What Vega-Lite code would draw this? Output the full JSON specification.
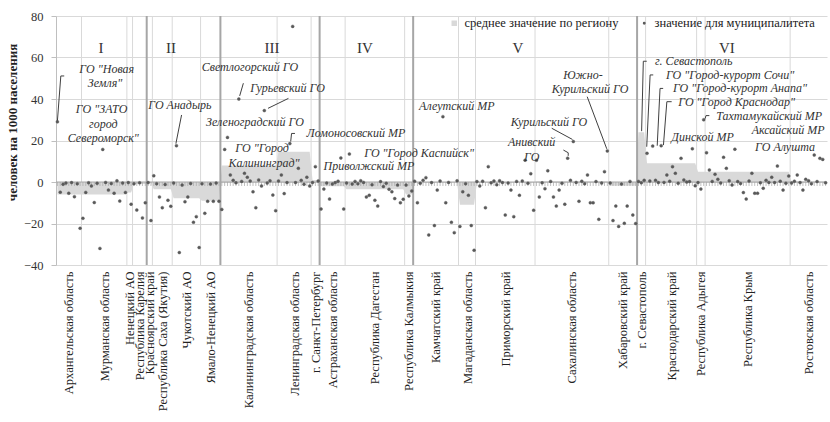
{
 "$schema": "https://vega.github.io/schema/vega-lite/v6.json",
 "width": 771, "height": 249,
 "autosize": {"type": "none"},
 "padding": {"left": 56, "top": 16, "right": 3, "bottom": 157},
 "background": "white",
 "config": {
  "font": "Liberation Serif",
  "view": {"stroke": null},
  "style": {"guide-label": {"font": "Liberation Serif"}, "guide-title": {"font": "Liberation Serif"}},
  "axis": {"labelFont": "Liberation Serif", "titleFont": "Liberation Serif"},
  "axisX": {"labelAngle": -90, "labelFontSize": 12.5, "labelColor": "#222", "labelOverlap": false, "labelPadding": 6, "labelBound": false, "labelFlush": false, "labelLimit": 0, "ticks": false, "domain": false, "grid": false},
  "axisY": {"grid": true, "gridColor": "#d9d9d9", "gridWidth": 1, "domainColor": "#bfbfbf", "tickColor": "#bfbfbf", "tickSize": 5, "labelPadding": 8, "labelFontSize": 12.5, "labelColor": "#333", "titleFontSize": 13, "titleFontWeight": "bold", "titleColor": "#222", "titleX": -44, "titleY": 106, "titleAngle": 270, "titleAlign": "center", "titleBaseline": "middle"},
  "legend": {"labelFont": "Liberation Serif", "labelFontSize": 12.5, "labelColor": "#222", "labelLimit": 0, "padding": 0, "title": null}
 },
 "datasets": {
  "m": [
   {"n":0,"reg":"Архангельская область","v":29,"avg":-6},{"n":1,"reg":"Архангельская область","v":-4.9,"avg":-6},{"n":2,"reg":"Архангельская область","v":-1.1,"avg":-6},{"n":3,"reg":"Архангельская область","v":-0.5,"avg":-6},{"n":4,"reg":"Архангельская область","v":-5.4,"avg":-6},{"n":5,"reg":"Архангельская область","v":-0.3,"avg":-6},{"n":6,"reg":"Архангельская область","v":-7.1,"avg":-6},{"n":7,"reg":"Архангельская область","v":-0.8,"avg":-6},{"n":8,"reg":"Архангельская область","v":-22.3,"avg":-6},
   {"n":9,"reg":"Мурманская область","v":-17.5,"avg":-6},{"n":10,"reg":"Мурманская область","v":-5,"avg":-6},{"n":11,"reg":"Мурманская область","v":-0.4,"avg":-6},{"n":12,"reg":"Мурманская область","v":-1.9,"avg":-6},{"n":13,"reg":"Мурманская область","v":-9.9,"avg":-6},{"n":14,"reg":"Мурманская область","v":-0.6,"avg":-6},{"n":15,"reg":"Мурманская область","v":-32,"avg":-6},{"n":16,"reg":"Мурманская область","v":15.7,"avg":-6},{"n":17,"reg":"Мурманская область","v":-0.2,"avg":-6},{"n":18,"reg":"Мурманская область","v":-3.9,"avg":-6},{"n":19,"reg":"Мурманская область","v":-0.7,"avg":-6},{"n":20,"reg":"Мурманская область","v":-5.4,"avg":-6},{"n":21,"reg":"Мурманская область","v":0.6,"avg":-6},{"n":22,"reg":"Мурманская область","v":-9.2,"avg":-6},{"n":23,"reg":"Мурманская область","v":-0.5,"avg":-6},{"n":24,"reg":"Мурманская область","v":-5,"avg":-6},
   {"n":25,"reg":"Ненецкий АО","v":-0.3,"avg":-5},{"n":26,"reg":"Ненецкий АО","v":-10.7,"avg":-5},
   {"n":27,"reg":"Республика Карелия","v":-0.8,"avg":-1},{"n":28,"reg":"Республика Карелия","v":-13.5,"avg":-1},{"n":29,"reg":"Республика Карелия","v":-0.4,"avg":-1},{"n":30,"reg":"Республика Карелия","v":-17.3,"avg":-1},{"n":31,"reg":"Республика Карелия","v":-10,"avg":-1},
   {"n":32,"reg":"Красноярский край","v":-0.3,"avg":-0.5},{"n":33,"reg":"Красноярский край","v":-18.6,"avg":-0.5},
   {"n":34,"reg":"Республика Саха (Якутия)","v":3,"avg":-3.5},{"n":35,"reg":"Республика Саха (Якутия)","v":-0.8,"avg":-3.5},{"n":36,"reg":"Республика Саха (Якутия)","v":-7.2,"avg":-3.5},{"n":37,"reg":"Республика Саха (Якутия)","v":-12.4,"avg":-3.5},{"n":38,"reg":"Республика Саха (Якутия)","v":-1.2,"avg":-3.5},{"n":39,"reg":"Республика Саха (Якутия)","v":-8.8,"avg":-3.5},{"n":40,"reg":"Республика Саха (Якутия)","v":-11.7,"avg":-3.5},
   {"n":41,"reg":"Чукотский АО","v":-0.5,"avg":-7.8},{"n":42,"reg":"Чукотский АО","v":17.5,"avg":-7.8},{"n":43,"reg":"Чукотский АО","v":-34,"avg":-7.8},{"n":44,"reg":"Чукотский АО","v":-1.5,"avg":-7.8},{"n":45,"reg":"Чукотский АО","v":-9.5,"avg":-7.8},{"n":46,"reg":"Чукотский АО","v":-7.2,"avg":-7.8},{"n":47,"reg":"Чукотский АО","v":-0.7,"avg":-7.8},{"n":48,"reg":"Чукотский АО","v":-19.4,"avg":-7.8},{"n":49,"reg":"Чукотский АО","v":-16.7,"avg":-7.8},{"n":50,"reg":"Чукотский АО","v":-31.6,"avg":-7.8},
   {"n":51,"reg":"Ямало-Ненецкий АО","v":-0.8,"avg":-9},{"n":52,"reg":"Ямало-Ненецкий АО","v":-15.1,"avg":-9},{"n":53,"reg":"Ямало-Ненецкий АО","v":-9.3,"avg":-9},{"n":54,"reg":"Ямало-Ненецкий АО","v":-1,"avg":-9},{"n":55,"reg":"Ямало-Ненецкий АО","v":-9.3,"avg":-9},{"n":56,"reg":"Ямало-Ненецкий АО","v":-0.5,"avg":-9},{"n":57,"reg":"Ямало-Ненецкий АО","v":-9.3,"avg":-9},
   {"n":58,"reg":"Калининградская область","v":-13.2,"avg":8},{"n":59,"reg":"Калининградская область","v":15.7,"avg":8},{"n":60,"reg":"Калининградская область","v":21.5,"avg":8},{"n":61,"reg":"Калининградская область","v":3.4,"avg":8},{"n":62,"reg":"Калининградская область","v":0.8,"avg":8},{"n":63,"reg":"Калининградская область","v":-0.4,"avg":8},{"n":64,"reg":"Калининградская область","v":40,"avg":8},{"n":65,"reg":"Калининградская область","v":0.3,"avg":8},{"n":66,"reg":"Калининградская область","v":4.2,"avg":8},{"n":67,"reg":"Калининградская область","v":2.3,"avg":8},{"n":68,"reg":"Калининградская область","v":0.5,"avg":8},{"n":69,"reg":"Калининградская область","v":-4.7,"avg":8},{"n":70,"reg":"Калининградская область","v":-12.4,"avg":8},{"n":71,"reg":"Калининградская область","v":1,"avg":8},{"n":72,"reg":"Калининградская область","v":-1.9,"avg":8},{"n":73,"reg":"Калининградская область","v":34.4,"avg":8},{"n":74,"reg":"Калининградская область","v":-0.5,"avg":8},{"n":75,"reg":"Калининградская область","v":0.6,"avg":8},{"n":76,"reg":"Калининградская область","v":-6.3,"avg":8},{"n":77,"reg":"Калининградская область","v":-13.8,"avg":8},
   {"n":78,"reg":"Ленинградская область","v":0.5,"avg":14.6},{"n":79,"reg":"Ленинградская область","v":3.4,"avg":14.6},{"n":80,"reg":"Ленинградская область","v":-5.6,"avg":14.6},{"n":81,"reg":"Ленинградская область","v":-0.3,"avg":14.6},{"n":82,"reg":"Ленинградская область","v":18.5,"avg":14.6},{"n":83,"reg":"Ленинградская область","v":75,"avg":14.6},{"n":84,"reg":"Ленинградская область","v":-0.3,"avg":14.6},{"n":85,"reg":"Ленинградская область","v":6.6,"avg":14.6},{"n":86,"reg":"Ленинградская область","v":0.8,"avg":14.6},{"n":87,"reg":"Ленинградская область","v":-1.1,"avg":14.6},{"n":88,"reg":"Ленинградская область","v":2.3,"avg":14.6},{"n":89,"reg":"Ленинградская область","v":-1.9,"avg":14.6},
   {"n":90,"reg":"г. Санкт-Петербург","v":-0.3,"avg":1},{"n":91,"reg":"г. Санкт-Петербург","v":7.4,"avg":1},{"n":92,"reg":"г. Санкт-Петербург","v":0.5,"avg":1},
   {"n":93,"reg":"Астраханская область","v":-13,"avg":-2},{"n":94,"reg":"Астраханская область","v":-3.4,"avg":-2},{"n":95,"reg":"Астраханская область","v":-0.5,"avg":-2},{"n":96,"reg":"Астраханская область","v":-8.2,"avg":-2},{"n":97,"reg":"Астраханская область","v":-1,"avg":-2},{"n":98,"reg":"Астраханская область","v":-0.3,"avg":-2},{"n":99,"reg":"Астраханская область","v":0.4,"avg":-2},{"n":100,"reg":"Астраханская область","v":11.6,"avg":-2},{"n":101,"reg":"Астраханская область","v":-13,"avg":-2},
   {"n":102,"reg":"Республика Дагестан","v":-0.5,"avg":-3.5},{"n":103,"reg":"Республика Дагестан","v":13.5,"avg":-3.5},{"n":104,"reg":"Республика Дагестан","v":-1,"avg":-3.5},{"n":105,"reg":"Республика Дагестан","v":0.3,"avg":-3.5},{"n":106,"reg":"Республика Дагестан","v":-0.8,"avg":-3.5},{"n":107,"reg":"Республика Дагестан","v":0.6,"avg":-3.5},{"n":108,"reg":"Республика Дагестан","v":-0.2,"avg":-3.5},{"n":109,"reg":"Республика Дагестан","v":-7.2,"avg":-3.5},{"n":110,"reg":"Республика Дагестан","v":-6.4,"avg":-3.5},{"n":111,"reg":"Республика Дагестан","v":-1.3,"avg":-3.5},{"n":112,"reg":"Республика Дагестан","v":-8.8,"avg":-3.5},{"n":113,"reg":"Республика Дагестан","v":-11.6,"avg":-3.5},{"n":114,"reg":"Республика Дагестан","v":0.2,"avg":-3.5},{"n":115,"reg":"Республика Дагестан","v":-2.2,"avg":-3.5},{"n":116,"reg":"Республика Дагестан","v":-0.6,"avg":-3.5},{"n":117,"reg":"Республика Дагестан","v":-3.5,"avg":-3.5},{"n":118,"reg":"Республика Дагестан","v":-4.7,"avg":-3.5},{"n":119,"reg":"Республика Дагестан","v":-8,"avg":-3.5},{"n":120,"reg":"Республика Дагестан","v":-1.5,"avg":-3.5},{"n":121,"reg":"Республика Дагестан","v":-10,"avg":-3.5},{"n":122,"reg":"Республика Дагестан","v":-8.3,"avg":-3.5},
   {"n":123,"reg":"Республика Калмыкия","v":-1.5,"avg":-6},{"n":124,"reg":"Республика Калмыкия","v":-6.7,"avg":-6},{"n":125,"reg":"Республика Калмыкия","v":-4.3,"avg":-6},
   {"n":126,"reg":"Камчатский край","v":0.4,"avg":-0.5},{"n":127,"reg":"Камчатский край","v":-10,"avg":-0.5},{"n":128,"reg":"Камчатский край","v":-0.6,"avg":-0.5},{"n":129,"reg":"Камчатский край","v":0.8,"avg":-0.5},{"n":130,"reg":"Камчатский край","v":2.1,"avg":-0.5},{"n":131,"reg":"Камчатский край","v":-25.5,"avg":-0.5},{"n":132,"reg":"Камчатский край","v":-0.3,"avg":-0.5},{"n":133,"reg":"Камчатский край","v":-21,"avg":-0.5},{"n":134,"reg":"Камчатский край","v":-3.9,"avg":-0.5},{"n":135,"reg":"Камчатский край","v":0.5,"avg":-0.5},{"n":136,"reg":"Камчатский край","v":31.5,"avg":-0.5},{"n":137,"reg":"Камчатский край","v":-10,"avg":-0.5},{"n":138,"reg":"Камчатский край","v":-0.2,"avg":-0.5},{"n":139,"reg":"Камчатский край","v":-19.4,"avg":-0.5},{"n":140,"reg":"Камчатский край","v":-24.4,"avg":-0.5},{"n":141,"reg":"Камчатский край","v":0.6,"avg":-0.5},
   {"n":142,"reg":"Магаданская область","v":-21.4,"avg":-11},{"n":143,"reg":"Магаданская область","v":-4.7,"avg":-11},{"n":144,"reg":"Магаданская область","v":-0.8,"avg":-11},{"n":145,"reg":"Магаданская область","v":-6.4,"avg":-11},{"n":146,"reg":"Магаданская область","v":-21,"avg":-11},{"n":147,"reg":"Магаданская область","v":-32.9,"avg":-11},
   {"n":148,"reg":"Приморский край","v":0.2,"avg":-0.3},{"n":149,"reg":"Приморский край","v":-1.9,"avg":-0.3},{"n":150,"reg":"Приморский край","v":0.4,"avg":-0.3},{"n":151,"reg":"Приморский край","v":-12.4,"avg":-0.3},{"n":152,"reg":"Приморский край","v":7.4,"avg":-0.3},{"n":153,"reg":"Приморский край","v":-0.4,"avg":-0.3},{"n":154,"reg":"Приморский край","v":0.5,"avg":-0.3},{"n":155,"reg":"Приморский край","v":-1.3,"avg":-0.3},{"n":156,"reg":"Приморский край","v":0.6,"avg":-0.3},{"n":157,"reg":"Приморский край","v":-0.3,"avg":-0.3},{"n":158,"reg":"Приморский край","v":-15.9,"avg":-0.3},{"n":159,"reg":"Приморский край","v":-0.5,"avg":-0.3},{"n":160,"reg":"Приморский край","v":-3.9,"avg":-0.3},{"n":161,"reg":"Приморский край","v":-16.7,"avg":-0.3},{"n":162,"reg":"Приморский край","v":0.3,"avg":-0.3},{"n":163,"reg":"Приморский край","v":-6.4,"avg":-0.3},{"n":164,"reg":"Приморский край","v":0.5,"avg":-0.3},{"n":165,"reg":"Приморский край","v":10.5,"avg":-0.3},{"n":166,"reg":"Приморский край","v":-0.6,"avg":-0.3},{"n":167,"reg":"Приморский край","v":4,"avg":-0.3},{"n":168,"reg":"Приморский край","v":-13.6,"avg":-0.3},
   {"n":169,"reg":"Сахалинская область","v":10.5,"avg":0.3},{"n":170,"reg":"Сахалинская область","v":-7.2,"avg":0.3},{"n":171,"reg":"Сахалинская область","v":-0.4,"avg":0.3},{"n":172,"reg":"Сахалинская область","v":-3.2,"avg":0.3},{"n":173,"reg":"Сахалинская область","v":5.4,"avg":0.3},{"n":174,"reg":"Сахалинская область","v":0.3,"avg":0.3},{"n":175,"reg":"Сахалинская область","v":-7.2,"avg":0.3},{"n":176,"reg":"Сахалинская область","v":-11.6,"avg":0.3},{"n":177,"reg":"Сахалинская область","v":-3.9,"avg":0.3},{"n":178,"reg":"Сахалинская область","v":-0.6,"avg":0.3},{"n":179,"reg":"Сахалинская область","v":-10.7,"avg":0.3},{"n":180,"reg":"Сахалинская область","v":11.5,"avg":0.3},{"n":181,"reg":"Сахалинская область","v":0.8,"avg":0.3},{"n":182,"reg":"Сахалинская область","v":19.5,"avg":0.3},{"n":183,"reg":"Сахалинская область","v":-0.2,"avg":0.3},{"n":184,"reg":"Сахалинская область","v":-9.3,"avg":0.3},{"n":185,"reg":"Сахалинская область","v":0.4,"avg":0.3},{"n":186,"reg":"Сахалинская область","v":-0.8,"avg":0.3},{"n":187,"reg":"Сахалинская область","v":3.4,"avg":0.3},{"n":188,"reg":"Сахалинская область","v":-10,"avg":0.3},{"n":189,"reg":"Сахалинская область","v":-10,"avg":0.3},{"n":190,"reg":"Сахалинская область","v":0.2,"avg":0.3},{"n":191,"reg":"Сахалинская область","v":-18,"avg":0.3},{"n":192,"reg":"Сахалинская область","v":-0.5,"avg":0.3},{"n":193,"reg":"Сахалинская область","v":5,"avg":0.3},{"n":194,"reg":"Сахалинская область","v":15,"avg":0.3},
   {"n":195,"reg":"Хабаровский край","v":-0.5,"avg":-1.8},{"n":196,"reg":"Хабаровский край","v":-18.6,"avg":-1.8},{"n":197,"reg":"Хабаровский край","v":-11.6,"avg":-1.8},{"n":198,"reg":"Хабаровский край","v":-21.4,"avg":-1.8},{"n":199,"reg":"Хабаровский край","v":-1,"avg":-1.8},{"n":200,"reg":"Хабаровский край","v":-19.9,"avg":-1.8},{"n":201,"reg":"Хабаровский край","v":-11.6,"avg":-1.8},{"n":202,"reg":"Хабаровский край","v":0.3,"avg":-1.8},{"n":203,"reg":"Хабаровский край","v":-15.9,"avg":-1.8},{"n":204,"reg":"Хабаровский край","v":-20,"avg":-1.8},
   {"n":205,"reg":"г. Севастополь","v":0.3,"avg":24},{"n":206,"reg":"г. Севастополь","v":-0.4,"avg":24},{"n":207,"reg":"г. Севастополь","v":0.8,"avg":24},
   {"n":208,"reg":"Краснодарский край","v":13.8,"avg":9},{"n":209,"reg":"Краснодарский край","v":0.5,"avg":9},{"n":210,"reg":"Краснодарский край","v":17.3,"avg":9},{"n":211,"reg":"Краснодарский край","v":0.8,"avg":9},{"n":212,"reg":"Краснодарский край","v":-0.3,"avg":9},{"n":213,"reg":"Краснодарский край","v":17.5,"avg":9},{"n":214,"reg":"Краснодарский край","v":-0.2,"avg":9},{"n":215,"reg":"Краснодарский край","v":3.4,"avg":9},{"n":216,"reg":"Краснодарский край","v":0.4,"avg":9},{"n":217,"reg":"Краснодарский край","v":7.4,"avg":9},{"n":218,"reg":"Краснодарский край","v":4.2,"avg":9},{"n":219,"reg":"Краснодарский край","v":-0.6,"avg":9},{"n":220,"reg":"Краснодарский край","v":11.4,"avg":9},{"n":221,"reg":"Краснодарский край","v":1,"avg":9},{"n":222,"reg":"Краснодарский край","v":0,"avg":9},{"n":223,"reg":"Краснодарский край","v":0.2,"avg":9},{"n":224,"reg":"Краснодарский край","v":16,"avg":9},{"n":225,"reg":"Краснодарский край","v":-1.8,"avg":9},
   {"n":226,"reg":"Республика Адыгея","v":-0.3,"avg":5},{"n":227,"reg":"Республика Адыгея","v":-3.4,"avg":5},{"n":228,"reg":"Республика Адыгея","v":30,"avg":5},
   {"n":229,"reg":"Республика Крым","v":14.1,"avg":5},{"n":230,"reg":"Республика Крым","v":5.8,"avg":5},{"n":231,"reg":"Республика Крым","v":0.3,"avg":5},{"n":232,"reg":"Республика Крым","v":3.7,"avg":5},{"n":233,"reg":"Республика Крым","v":1.3,"avg":5},{"n":234,"reg":"Республика Крым","v":-0.5,"avg":5},{"n":235,"reg":"Республика Крым","v":11.9,"avg":5},{"n":236,"reg":"Республика Крым","v":6.6,"avg":5},{"n":237,"reg":"Республика Крым","v":0.6,"avg":5},{"n":238,"reg":"Республика Крым","v":-1.4,"avg":5},{"n":239,"reg":"Республика Крым","v":15.8,"avg":5},{"n":240,"reg":"Республика Крым","v":0.2,"avg":5},{"n":241,"reg":"Республика Крым","v":-0.7,"avg":5},{"n":242,"reg":"Республика Крым","v":-5.1,"avg":5},{"n":243,"reg":"Республика Крым","v":-8.2,"avg":5},{"n":244,"reg":"Республика Крым","v":0.5,"avg":5},{"n":245,"reg":"Республика Крым","v":4.2,"avg":5},{"n":246,"reg":"Республика Крым","v":-5.4,"avg":5},{"n":247,"reg":"Республика Крым","v":-5.4,"avg":5},{"n":248,"reg":"Республика Крым","v":-0.4,"avg":5},{"n":249,"reg":"Республика Крым","v":-3,"avg":5},{"n":250,"reg":"Республика Крым","v":0.8,"avg":5},{"n":251,"reg":"Республика Крым","v":-0.2,"avg":5},{"n":252,"reg":"Республика Крым","v":2.3,"avg":5},{"n":253,"reg":"Республика Крым","v":-0.3,"avg":5},{"n":254,"reg":"Республика Крым","v":7.7,"avg":5},{"n":255,"reg":"Республика Крым","v":0.4,"avg":5},{"n":256,"reg":"Республика Крым","v":-3.9,"avg":5},{"n":257,"reg":"Республика Крым","v":-0.6,"avg":5},{"n":258,"reg":"Республика Крым","v":2.9,"avg":5},
   {"n":259,"reg":"Ростовская область","v":-0.5,"avg":0.3},{"n":260,"reg":"Ростовская область","v":0.4,"avg":0.3},{"n":261,"reg":"Ростовская область","v":3.4,"avg":0.3},{"n":262,"reg":"Ростовская область","v":-0.3,"avg":0.3},{"n":263,"reg":"Ростовская область","v":-3.9,"avg":0.3},{"n":264,"reg":"Ростовская область","v":1.3,"avg":0.3},{"n":265,"reg":"Ростовская область","v":0.6,"avg":0.3},{"n":266,"reg":"Ростовская область","v":-0.8,"avg":0.3},{"n":267,"reg":"Ростовская область","v":13,"avg":0.3},{"n":268,"reg":"Ростовская область","v":0.2,"avg":0.3},{"n":269,"reg":"Ростовская область","v":11.4,"avg":0.3},{"n":270,"reg":"Ростовская область","v":10.9,"avg":0.3},{"n":271,"reg":"Ростовская область","v":-0.4,"avg":0.3}
  ],
  "bounds": [
   {"b":8.5,"kind":"region"},{"b":24.5,"kind":"region"},{"b":26.5,"kind":"region"},{"b":33.5,"kind":"region"},{"b":40.5,"kind":"region"},{"b":50.5,"kind":"region"},{"b":77.5,"kind":"region"},{"b":89.5,"kind":"region"},{"b":101.5,"kind":"region"},{"b":122.5,"kind":"region"},{"b":141.5,"kind":"region"},{"b":147.5,"kind":"region"},{"b":168.5,"kind":"region"},{"b":194.5,"kind":"region"},{"b":207.5,"kind":"region"},{"b":225.5,"kind":"region"},{"b":228.5,"kind":"region"},{"b":258.5,"kind":"region"},
   {"b":31.5,"kind":"group"},{"b":57.5,"kind":"group"},{"b":92.5,"kind":"group"},{"b":125.5,"kind":"group"},{"b":204.5,"kind":"group"}
  ],
  "groups": [
   {"g":"I","x":15.4,"y":64.6},{"g":"II","x":40.1,"y":64.6},{"g":"III","x":75.7,"y":64.6},{"g":"IV","x":108.5,"y":64.6},{"g":"V","x":162.5,"y":64.6},{"g":"VI","x":236.2,"y":64.6}
  ],
  "notes": [
   {"t":"ГО \"Новая","x":17.4,"y":54.3},{"t":"Земля\"","x":16.8,"y":47.6},
   {"t":"ГО \"ЗАТО","x":15.6,"y":35},{"t":"город","x":16.2,"y":28},{"t":"Североморск\"","x":16.2,"y":21.1},
   {"t":"ГО Анадырь","x":43.2,"y":37.1},
   {"t":"Светлогорский ГО","x":67.9,"y":55.3},
   {"t":"Гурьевский ГО","x":81.2,"y":45.2},
   {"t":"Зеленоградский ГО","x":69.7,"y":29},
   {"t":"ГО \"Город","x":72.2,"y":16.2},{"t":"Калининград\"","x":72.9,"y":9},
   {"t":"Ломоносовский МР","x":105.3,"y":23.4},
   {"t":"ГО \"Город Каспийск\"","x":127.6,"y":14.1},
   {"t":"Приволжский МР","x":109.9,"y":7.7},
   {"t":"Алеутский МР","x":140.9,"y":36.6},
   {"t":"Курильский ГО","x":173.4,"y":29},
   {"t":"Анивский","x":167.3,"y":19.4},{"t":"ГО","x":167.3,"y":12.2},
   {"t":"Южно-","x":185.4,"y":51.6},{"t":"Курильский ГО","x":187.9,"y":44.7},
   {"t":"г. Севастополь","x":224.5,"y":58.2},
   {"t":"ГО \"Город-курорт Сочи\"","x":237.3,"y":51.6},
   {"t":"ГО \"Город-курорт Анапа\"","x":240.8,"y":45.1},
   {"t":"ГО \"Город Краснодар\"","x":239.6,"y":38.7},
   {"t":"Тахтамукайский МР","x":251.1,"y":32},
   {"t":"Аксайский МР","x":257.8,"y":25.1},
   {"t":"Динской МР","x":227.6,"y":21.8},
   {"t":"ГО Алушта","x":256.7,"y":17}
  ],
  "leaders": [
   {"x":1.2,"y":51.1,"x2":0,"y2":29.5},{"x":1.2,"y":51.1,"x2":2.4,"y2":51.1},
   {"x":43.8,"y":32.3,"x2":41.8,"y2":18.5},
   {"x":65.6,"y":47.6,"x2":64.3,"y2":41.5},
   {"x":81.5,"y":40.3,"x2":74.3,"y2":35.5},
   {"x":83.8,"y":23.4,"x2":82.6,"y2":23.4},{"x":82.6,"y":23.4,"x2":82.3,"y2":19.5},
   {"x":174.4,"y":25.9,"x2":181.7,"y2":20.5},
   {"x":178.5,"y":15.4,"x2":180.2,"y2":14.1},{"x":180.2,"y":14.1,"x2":180.2,"y2":12.6},
   {"x":186.9,"y":41.1,"x2":193.8,"y2":16},
   {"x":207.9,"y":58.2,"x2":206.7,"y2":58.2},{"x":206.7,"y":58.2,"x2":206.1,"y2":24.5},
   {"x":210.2,"y":51.6,"x2":209.1,"y2":51.6},{"x":209.1,"y":51.6,"x2":207.9,"y2":17},
   {"x":213.7,"y":45.1,"x2":212.6,"y2":45.1},{"x":212.6,"y":45.1,"x2":211.6,"y2":17.5},
   {"x":216.7,"y":38.7,"x2":215,"y2":38.7},{"x":215,"y":38.7,"x2":213.8,"y2":17.8},
   {"x":230,"y":32,"x2":228.8,"y2":32},{"x":228.8,"y":32,"x2":228.5,"y2":30.5}
  ]
 },
 "layer": [
  {
   "data": {"name": "m"},
   "mark": {"type": "area", "opacity": 1},
   "encoding": {
    "x": {"field": "n", "type": "quantitative", "scale": {"domain": [-0.5, 271.5], "nice": false, "zero": false},
     "axis": {"title": null, "labelOverlap": false, "tickCount": 100, "values": [4,16.5,25.5,29,32.5,37,45.5,54,67.5,83.5,91,97,112,124,133.5,144.5,158,181.5,199.5,206,216.5,227,243.5,265],
      "labelExpr": "['Архангельская область','Мурманская область','Ненецкий АО','Республика Карелия','Красноярский край','Республика Саха (Якутия)','Чукотский АО','Ямало-Ненецкий АО','Калининградская область','Ленинградская область','г. Санкт-Петербург','Астраханская область','Республика Дагестан','Республика Калмыкия','Камчатский край','Магаданская область','Приморский край','Сахалинская область','Хабаровский край','г. Севастополь','Краснодарский край','Республика Адыгея','Республика Крым','Ростовская область'][indexof([4,16.5,25.5,29,32.5,37,45.5,54,67.5,83.5,91,97,112,124,133.5,144.5,158,181.5,199.5,206,216.5,227,243.5,265], datum.value)]"}},
    "y": {"field": "avg", "type": "quantitative", "scale": {"domain": [-40, 80], "nice": false},
     "axis": {"title": "человек на 1000 населения", "values": [-40,-20,0,20,40,60,80], "tickCount": 10}},
    "fill": {"datum": "среднее значение по региону", "type": "nominal",
     "scale": {"range": ["#d9d9d9"]},
     "legend": {"title": null, "orient": "none", "legendX": 392, "legendY": 1, "symbolType": "square", "symbolSize": 30, "symbolStrokeWidth": 0}}
   }
  },
  {
   "data": {"name": "bounds"},
   "transform": [{"filter": "datum.kind === 'region'"}],
   "mark": {"type": "rule", "color": "#d9d9d9", "strokeWidth": 1},
   "encoding": {
    "x": {"field": "b", "type": "quantitative"},
    "y": {"datum": -40, "type": "quantitative"},
    "y2": {"datum": 80}
   }
  },
  {
   "data": {"name": "bounds"},
   "transform": [{"filter": "datum.kind === 'group'"}],
   "mark": {"type": "rule", "color": "#a6a6a6", "strokeWidth": 2},
   "encoding": {
    "x": {"field": "b", "type": "quantitative"},
    "y": {"datum": -40, "type": "quantitative"},
    "y2": {"datum": 80}
   }
  },
  {
   "data": {"values": [{}]},
   "mark": {"type": "rule", "color": "#a6a6a6", "strokeWidth": 1},
   "encoding": {"y": {"datum": 0, "type": "quantitative"}}
  },
  {
   "data": {"name": "m"},
   "mark": {"type": "tick", "orient": "vertical", "size": 4, "thickness": 1, "color": "#a6a6a6", "yOffset": 2},
   "encoding": {
    "x": {"field": "n", "type": "quantitative"},
    "y": {"datum": 0, "type": "quantitative"}
   }
  },
  {
   "data": {"name": "m"},
   "mark": {"type": "point", "filled": true, "fill": "#595959", "size": 9, "opacity": 1, "strokeWidth": 0.4},
   "encoding": {
    "x": {"field": "n", "type": "quantitative"},
    "y": {"field": "v", "type": "quantitative"},
    "stroke": {"datum": "значение для муниципалитета", "type": "nominal",
     "scale": {"range": ["#595959"]},
     "legend": {"title": null, "orient": "none", "legendX": 582, "legendY": 1, "symbolType": "circle", "symbolSize": 2, "symbolStrokeWidth": 1.5, "symbolFillColor": "#595959"}}
   }
  },
  {
   "data": {"name": "groups"},
   "mark": {"type": "text", "font": "Liberation Serif", "fontSize": 15, "color": "#333", "baseline": "middle", "align": "center"},
   "encoding": {
    "x": {"field": "x", "type": "quantitative"},
    "y": {"field": "y", "type": "quantitative"},
    "text": {"field": "g"}
   }
  },
  {
   "data": {"name": "leaders"},
   "mark": {"type": "rule", "color": "#404040", "strokeWidth": 1},
   "encoding": {
    "x": {"field": "x", "type": "quantitative"},
    "x2": {"field": "x2"},
    "y": {"field": "y", "type": "quantitative"},
    "y2": {"field": "y2"}
   }
  },
  {
   "data": {"name": "notes"},
   "mark": {"type": "text", "font": "Liberation Serif", "fontSize": 12, "fontStyle": "italic", "color": "#333", "baseline": "middle", "align": "center"},
   "encoding": {
    "x": {"field": "x", "type": "quantitative"},
    "y": {"field": "y", "type": "quantitative"},
    "text": {"field": "t"}
   }
  }
 ]
}
